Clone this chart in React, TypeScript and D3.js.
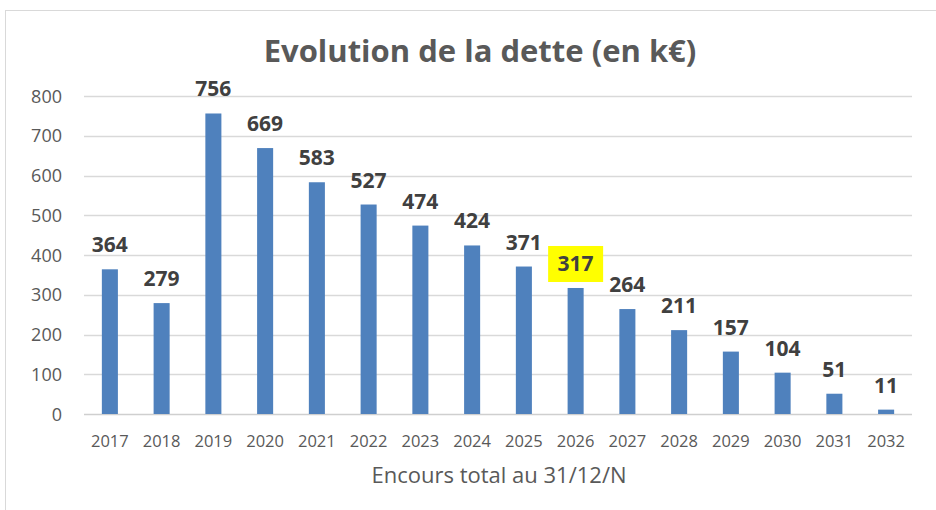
import React, { useEffect, useRef } from "react";
import * as d3 from "d3";

const years = ["2017", "2018", "2019", "2020", "2021", "2022", "2023", "2024", "2025", "2026", "2027", "2028", "2029", "2030", "2031", "2032"];
const debt = [364, 279, 756, 669, 583, 527, 474, 424, 371, 317, 264, 211, 157, 104, 51, 11];
const yTicks = [0, 100, 200, 300, 400, 500, 600, 700, 800];
const highlightYear = "2026";

const title = "Evolution de la dette (en k€)";
const xTitle = "Encours total au 31/12/N";

export default function App() {
  const ref = useRef<SVGSVGElement>(null);

  useEffect(() => {
    const svg = d3.select(ref.current);
    svg.selectAll("*").remove();

    const width = 936;
    const height = 510;
    const left = 84, right = 912, top = 96, bottom = 414;
    const font = "'Open Sans', 'Liberation Sans', Arial, sans-serif";

    // chart frame
    svg.append("rect")
      .attr("x", 5.5).attr("y", 10.5)
      .attr("width", width).attr("height", height)
      .attr("fill", "#fff").attr("stroke", "#d9d9d9");

    const x = d3.scaleBand().domain(years).range([left, right]).paddingInner(0.69).paddingOuter(0.345);
    const y = d3.scaleLinear().domain([0, 800]).range([bottom, top]);

    // gridlines
    svg.append("g")
      .selectAll("line")
      .data(yTicks)
      .join("line")
      .attr("x1", left).attr("x2", right)
      .attr("y1", (d) => Math.round(y(d)) + 0.5)
      .attr("y2", (d) => Math.round(y(d)) + 0.5)
      .attr("stroke", (d) => (d === 0 ? "#cfcfcf" : "#d9d9d9"))
      .attr("stroke-width", 1.5);

    // y labels
    svg.append("g")
      .selectAll("text")
      .data(yTicks)
      .join("text")
      .attr("x", 62).attr("y", (d) => y(d) + 6.5)
      .attr("text-anchor", "end")
      .attr("font-family", font).attr("font-size", 18)
      .attr("fill", "#595959")
      .text((d) => d);

    // bars
    svg.append("g")
      .selectAll("rect")
      .data(debt)
      .join("rect")
      .attr("x", (d, i) => x(years[i])!)
      .attr("width", x.bandwidth())
      .attr("y", (d) => y(d))
      .attr("height", (d) => bottom - y(d))
      .attr("fill", "#4f81bd");

    // highlight behind one label
    const hi = years.indexOf(highlightYear);
    const hx = x(highlightYear)! + x.bandwidth() / 2;
    svg.append("rect")
      .attr("x", hx - 27.5).attr("y", y(debt[hi]) - 42)
      .attr("width", 55).attr("height", 36)
      .attr("fill", "#ffff00");

    // data labels
    svg.append("g")
      .selectAll("text")
      .data(debt)
      .join("text")
      .attr("x", (d, i) => x(years[i])! + x.bandwidth() / 2)
      .attr("y", (d) => y(d) - 17)
      .attr("text-anchor", "middle")
      .attr("font-family", font).attr("font-size", 21).attr("font-weight", "bold")
      .attr("fill", "#404040")
      .text((d) => d);

    // x labels
    svg.append("g")
      .selectAll("text")
      .data(years)
      .join("text")
      .attr("x", (d) => x(d)! + x.bandwidth() / 2)
      .attr("y", 447)
      .attr("text-anchor", "middle")
      .attr("font-family", font).attr("font-size", 16.5)
      .attr("fill", "#595959")
      .text((d) => d);

    svg.append("text")
      .attr("x", 499).attr("y", 483)
      .attr("text-anchor", "middle")
      .attr("font-family", font).attr("font-size", 22)
      .attr("fill", "#595959")
      .text(xTitle);

    svg.append("text")
      .attr("x", 480).attr("y", 62)
      .attr("text-anchor", "middle")
      .attr("font-family", font).attr("font-size", 31).attr("font-weight", "bold")
      .attr("fill", "#595959")
      .text(title);
  }, []);

  return (
    <svg
      ref={ref}
      width={936}
      height={510}
      style={{ position: "absolute", left: 0, top: 0, background: "#fff" }}
    />
  );
}
